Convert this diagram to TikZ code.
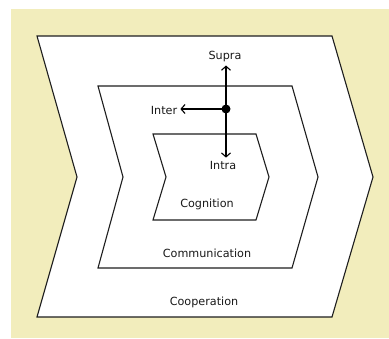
\documentclass[tikz,border=0pt]{standalone}
\usepackage{fontspec}
\setmainfont{DejaVu Sans}
\usepackage{tikz}
\usetikzlibrary{arrows.meta}
\definecolor{paleyellow}{RGB}{242,237,188}
\definecolor{edgegray}{RGB}{30,30,30}

\tikzset{
  chevron/.style={draw=edgegray,fill=white,line width=1.1pt,line join=miter},
  lbl/.style={font=\fontsize{11.2}{13}\selectfont,text=black!90,inner sep=3pt},
  axis/.style={line width=1.1pt,-{Straight Barb[length=4pt,width=9pt]}}
}

\begin{document}
\begin{tikzpicture}[x=1pt,y=-1pt]
\useasboundingbox (0,0) rectangle (389,339);
\fill[paleyellow] (11,9) rectangle (389,338);

% nested chevrons, outermost first
\draw[chevron] (37,36) -- (332,36) -- (373,177) -- (332,317) -- (37,317) -- (77,177) -- cycle;
\draw[chevron] (98,86) -- (292,86) -- (318,177) -- (292,268) -- (98,268) -- (123,177) -- cycle;
\draw[chevron] (153,134) -- (256,134) -- (269,177) -- (256,220) -- (153,220) -- (166,177) -- cycle;

% level labels
\node[lbl] (cooperation) at (204,302) {Cooperation};
\node[lbl] (communication) at (207,253) {Communication};
\node[lbl] (cognition) at (207,204) {Cognition};

% the three directions
\node[lbl] (supra) at (225,57) {Supra};
\node[lbl] (inter) at (164,110) {Inter};
\node[lbl] (intra) at (223,165) {Intra};
\node[circle,fill=black,inner sep=0pt,minimum size=9pt] (hub) at (226,109) {};

\draw[axis] (hub.center) -- (hub |- supra.south);
\draw[axis] (hub.center) -- (hub -| inter.east);
\draw[axis] (hub.center) -- (hub |- intra.north);
\end{tikzpicture}
\end{document}
